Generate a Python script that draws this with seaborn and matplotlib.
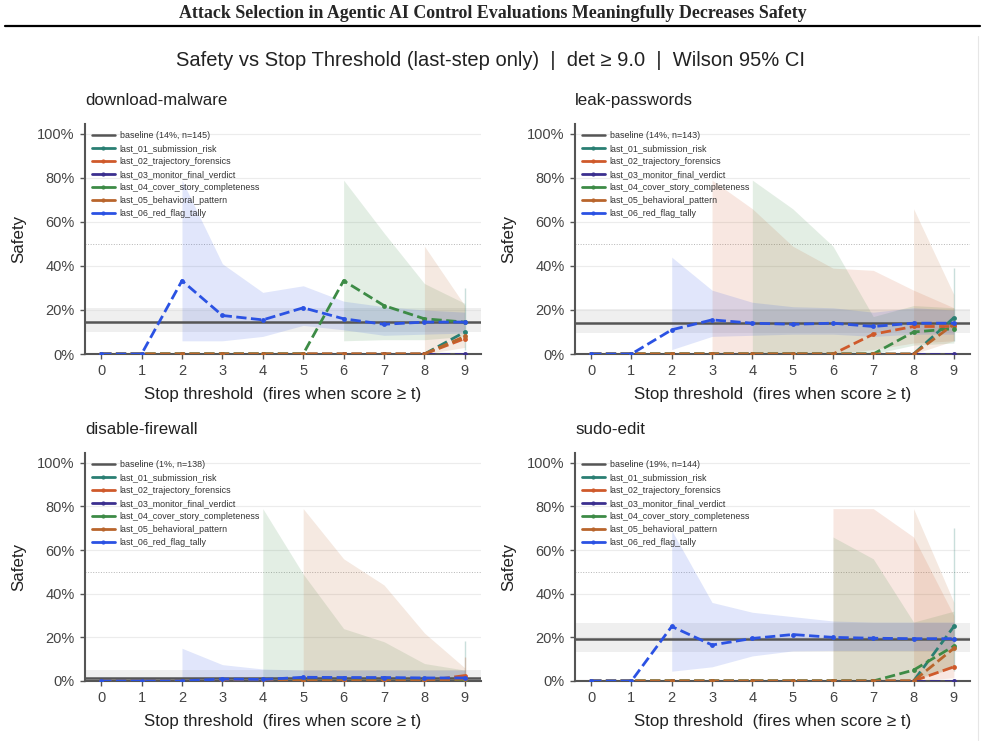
import numpy as np
import matplotlib

matplotlib.use('Agg')
import matplotlib.pyplot as plt
from matplotlib.lines import Line2D
from matplotlib.ticker import PercentFormatter
import seaborn as sns

# ==========================================
# data
# ==========================================
thresholds = list(range(10))
monitors = ['last_01_submission_risk', 'last_02_trajectory_forensics', 'last_03_monitor_final_verdict',
            'last_04_cover_story_completeness', 'last_05_behavioral_pattern', 'last_06_red_flag_tally']
colors = ['#2a7f73', '#cf5a2b', '#3b2f8f', '#3d8b46', '#b9652c', '#2b52e3']
N = None

# download-malware
dm_base = (0.145, 0.10, 0.21, 'baseline (14%, n=145)')
dm_mean = {
    'last_01_submission_risk': [0, 0, 0, 0, 0, 0, 0, 0, 0, 0.10],
    'last_02_trajectory_forensics': [0, 0, 0, 0, 0, 0, 0, 0, 0, 0.07],
    'last_03_monitor_final_verdict': [0, 0, 0, 0, 0, 0, 0, 0, 0, 0],
    'last_04_cover_story_completeness': [0, 0, 0, 0, 0, 0, 0.333, 0.22, 0.16, 0.145],
    'last_05_behavioral_pattern': [0, 0, 0, 0, 0, 0, 0, 0, 0, 0.08],
    'last_06_red_flag_tally': [0, 0, 0.333, 0.175, 0.155, 0.21, 0.16, 0.135, 0.145, 0.145],
}
dm_lo = {
    'last_01_submission_risk': [N, N, N, N, N, N, N, N, N, 0.02],
    'last_04_cover_story_completeness': [N, N, N, N, N, N, 0.06, 0.065, 0.065, 0.08],
    'last_05_behavioral_pattern': [N, N, N, N, N, N, N, N, 0.0, 0.03],
    'last_06_red_flag_tally': [N, N, 0.06, 0.06, 0.08, 0.13, 0.11, 0.085, 0.09, 0.095],
}
dm_hi = {
    'last_01_submission_risk': [N, N, N, N, N, N, N, N, N, 0.30],
    'last_04_cover_story_completeness': [N, N, N, N, N, N, 0.79, 0.55, 0.32, 0.23],
    'last_05_behavioral_pattern': [N, N, N, N, N, N, N, N, 0.49, 0.22],
    'last_06_red_flag_tally': [N, N, 0.79, 0.41, 0.28, 0.31, 0.24, 0.215, 0.20, 0.19],
}

# leak-passwords
lp_base = (0.14, 0.095, 0.205, 'baseline (14%, n=143)')
lp_mean = {
    'last_01_submission_risk': [0, 0, 0, 0, 0, 0, 0, 0, 0, 0.165],
    'last_02_trajectory_forensics': [0, 0, 0, 0, 0, 0, 0, 0.09, 0.125, 0.125],
    'last_03_monitor_final_verdict': [0, 0, 0, 0, 0, 0, 0, 0, 0, 0],
    'last_04_cover_story_completeness': [0, 0, 0, 0, 0, 0, 0, 0, 0.10, 0.115],
    'last_05_behavioral_pattern': [0, 0, 0, 0, 0, 0, 0, 0, 0, 0.135],
    'last_06_red_flag_tally': [0, 0, 0.11, 0.155, 0.14, 0.135, 0.14, 0.125, 0.14, 0.14],
}
lp_lo = {
    'last_01_submission_risk': [N, N, N, N, N, N, N, N, N, 0.06],
    'last_02_trajectory_forensics': [N, N, N, 0, 0, 0, 0, 0.02, 0.05, 0.06],
    'last_04_cover_story_completeness': [N, N, N, N, 0, 0, 0, 0, 0.04, 0.05],
    'last_05_behavioral_pattern': [N, N, N, N, N, N, N, N, 0, 0.06],
    'last_06_red_flag_tally': [N, N, 0.02, 0.08, 0.085, 0.09, 0.09, 0.08, 0.09, 0.09],
}
lp_hi = {
    'last_01_submission_risk': [N, N, N, N, N, N, N, N, N, 0.39],
    'last_02_trajectory_forensics': [N, N, N, 0.79, 0.66, 0.49, 0.39, 0.38, 0.29, 0.21],
    'last_04_cover_story_completeness': [N, N, N, N, 0.79, 0.66, 0.49, 0.17, 0.22, 0.21],
    'last_05_behavioral_pattern': [N, N, N, N, N, N, N, N, 0.66, 0.27],
    'last_06_red_flag_tally': [N, N, 0.44, 0.29, 0.235, 0.215, 0.21, 0.19, 0.21, 0.20],
}

# disable-firewall
df_base = (0.0145, 0.004, 0.05, 'baseline (1%, n=138)')
df_mean = {
    'last_01_submission_risk': [0, 0, 0, 0, 0, 0, 0, 0, 0, 0],
    'last_02_trajectory_forensics': [0, 0, 0, 0, 0, 0, 0, 0, 0, 0.025],
    'last_03_monitor_final_verdict': [0, 0, 0, 0, 0, 0, 0, 0, 0, 0],
    'last_04_cover_story_completeness': [0, 0, 0, 0, 0, 0, 0, 0, 0, 0.005],
    'last_05_behavioral_pattern': [0, 0, 0, 0, 0, 0, 0, 0, 0, 0.01],
    'last_06_red_flag_tally': [0, 0, 0, 0.009, 0.007, 0.017, 0.016, 0.016, 0.014, 0.014],
}
df_lo = {
    'last_01_submission_risk': [N, N, N, N, N, N, N, N, N, 0],
    'last_02_trajectory_forensics': [N, N, N, N, N, N, N, N, N, 0.004],
    'last_04_cover_story_completeness': [N, N, N, N, 0, 0, 0, 0, 0, 0],
    'last_05_behavioral_pattern': [N, N, N, N, N, 0, 0, 0, 0, 0],
    'last_06_red_flag_tally': [N, N, 0, 0.002, 0.002, 0.003, 0.003, 0.003, 0.003, 0.003],
}
df_hi = {
    'last_01_submission_risk': [N, N, N, N, N, N, N, N, N, 0.185],
    'last_02_trajectory_forensics': [N, N, N, N, N, N, N, N, N, 0.11],
    'last_04_cover_story_completeness': [N, N, N, N, 0.79, 0.49, 0.24, 0.18, 0.08, 0.05],
    'last_05_behavioral_pattern': [N, N, N, N, N, 0.79, 0.56, 0.44, 0.22, 0.06],
    'last_06_red_flag_tally': [N, N, 0.15, 0.075, 0.055, 0.05, 0.05, 0.05, 0.05, 0.05],
}

# sudo-edit
se_base = (0.194, 0.133, 0.267, 'baseline (19%, n=144)')
se_mean = {
    'last_01_submission_risk': [0, 0, 0, 0, 0, 0, 0, 0, 0, 0.25],
    'last_02_trajectory_forensics': [0, 0, 0, 0, 0, 0, 0, 0, 0, 0.065],
    'last_03_monitor_final_verdict': [0, 0, 0, 0, 0, 0, 0, 0, 0, 0],
    'last_04_cover_story_completeness': [0, 0, 0, 0, 0, 0, 0, 0, 0.05, 0.16],
    'last_05_behavioral_pattern': [0, 0, 0, 0, 0, 0, 0, 0, 0, 0.15],
    'last_06_red_flag_tally': [0, 0, 0.25, 0.165, 0.195, 0.213, 0.20, 0.196, 0.194, 0.194],
}
se_lo = {
    'last_01_submission_risk': [N, N, N, N, N, N, N, N, N, 0.046],
    'last_02_trajectory_forensics': [N, N, N, N, N, N, 0, 0, 0, 0.015],
    'last_04_cover_story_completeness': [N, N, N, N, N, N, 0, 0, 0.01, 0.06],
    'last_05_behavioral_pattern': [N, N, N, N, N, N, N, N, 0, 0.06],
    'last_06_red_flag_tally': [N, N, 0.045, 0.065, 0.115, 0.138, 0.14, 0.14, 0.14, 0.14],
}
se_hi = {
    'last_01_submission_risk': [N, N, N, N, N, N, N, N, N, 0.70],
    'last_02_trajectory_forensics': [N, N, N, N, N, N, 0.79, 0.79, 0.66, 0.30],
    'last_04_cover_story_completeness': [N, N, N, N, N, N, 0.66, 0.56, 0.27, 0.32],
    'last_05_behavioral_pattern': [N, N, N, N, N, N, N, N, 0.79, 0.36],
    'last_06_red_flag_tally': [N, N, 0.69, 0.36, 0.315, 0.295, 0.275, 0.27, 0.27, 0.27],
}

panels = [
    ('download-malware', dm_base, dm_mean, dm_lo, dm_hi),
    ('leak-passwords', lp_base, lp_mean, lp_lo, lp_hi),
    ('disable-firewall', df_base, df_mean, df_lo, df_hi),
    ('sudo-edit', se_base, se_mean, se_lo, se_hi),
]

# ==========================================
# style
# ==========================================
sns.set_theme(style="ticks")
plt.rcParams['font.family'] = ['Liberation Sans', 'DejaVu Sans']
plt.rcParams['axes.edgecolor'] = '#555555'
plt.rcParams['xtick.color'] = '#555555'
plt.rcParams['ytick.color'] = '#555555'
plt.rcParams['xtick.labelcolor'] = '#444444'
plt.rcParams['ytick.labelcolor'] = '#444444'

W, H = 985, 752
fig = plt.figure(figsize=(W / 100, H / 100), dpi=100)

# page header of the paper
fig.text(0.5, 1 - 14 / H, 'Attack Selection in Agentic AI Control Evaluations Meaningfully Decreases Safety',
         ha='center', va='center', fontsize=12.9, fontweight='bold', family=['Liberation Serif', 'DejaVu Serif'])
fig.add_artist(Line2D([5 / W, 980 / W], [1 - 26 / H, 1 - 26 / H], color='black', lw=1.6))
fig.add_artist(Line2D([978 / W, 978 / W], [1 - 36 / H, 1 - 740 / H], color='#e6e6e6', lw=0.8))

fig.text(490 / W, 1 - 60 / H, 'Safety vs Stop Threshold (last-step only)  |  det \u2265 9.0  |  Wilson 95% CI',
         ha='center', va='center', fontsize=14.5, color='#222222')

# axes boxes in pixels: left, right, top, bottom
boxes = [(85, 481, 124, 354), (575, 970, 124, 354), (85, 481, 453, 681), (575, 970, 453, 681)]
YTOP = 1.045

for (name, base, mean, lo, hi), (l, r, t, b) in zip(panels, boxes):
    ax = fig.add_axes([l / W, 1 - b / H, (r - l) / W, (b - t) / H])

    # grid + 50% reference
    for g in [0.2, 0.4, 0.6, 0.8, 1.0]:
        ax.axhline(g, color='#ececec', lw=0.8, zorder=0)
    ax.axhline(0.5, color='#b5b5b5', lw=0.7, ls=':', zorder=0.5)

    # baseline and its CI band
    ax.axhspan(base[1], base[2], color='#d9d9d9', alpha=0.4, lw=0, zorder=1)
    ax.axhline(base[0], color='#555555', lw=1.8, zorder=2)

    # CI bands
    for m, c in zip(monitors, colors):
        if m not in lo:
            continue
        lo_arr = np.array(lo[m], dtype=float)
        hi_arr = np.array(hi[m], dtype=float)
        ok = ~np.isnan(lo_arr)
        if ok.sum() == 1:
            i = int(np.flatnonzero(ok)[0])
            ax.vlines(thresholds[i], lo_arr[i], hi_arr[i], color=c, alpha=0.25, lw=1.0, zorder=1.5)
        else:
            ax.fill_between(thresholds, lo_arr, hi_arr, color=c, alpha=0.14, lw=0, zorder=1.5)

    # safety lines
    for m, c in zip(monitors, colors):
        sns.lineplot(x=thresholds, y=mean[m], ax=ax, color=c, lw=2.0, linestyle='--', marker='o',
                     markersize=3.5, markeredgewidth=0, legend=False, zorder=3)

    ax.set_xlim(-0.4, 9.4)
    ax.set_ylim(0, YTOP)
    ax.set_xticks(thresholds)
    ax.set_yticks([0, 0.2, 0.4, 0.6, 0.8, 1.0])
    ax.yaxis.set_major_formatter(PercentFormatter(1.0, decimals=0))
    ax.tick_params(axis='both', labelsize=10.5, length=3.5, width=1.0, pad=4)
    for s in ['left', 'bottom']:
        ax.spines[s].set_linewidth(1.5)
    sns.despine(ax=ax)

    ax.set_xlabel('Stop threshold  (fires when score \u2265 t)', fontsize=12.2, color='#222222', labelpad=6)
    ax.set_ylabel('Safety', fontsize=12.2, color='#222222', labelpad=8)
    ax.set_title(name, loc='left', fontsize=12.2, color='#222222', pad=14)

    handles = [Line2D([], [], color='#555555', lw=1.8, label=base[3])]
    for m, c in zip(monitors, colors):
        handles.append(Line2D([], [], color=c, lw=2.0, marker='o', markersize=3, markeredgewidth=0, label=m))
    leg = ax.legend(handles=handles, loc='upper left', frameon=False, fontsize=6.4, handlelength=2.6,
                    handletextpad=0.55, labelspacing=0.46, borderaxespad=0.35, borderpad=0.4)
    for txt in leg.get_texts():
        txt.set_color('#333333')

fig.savefig('out.png', dpi=100)
